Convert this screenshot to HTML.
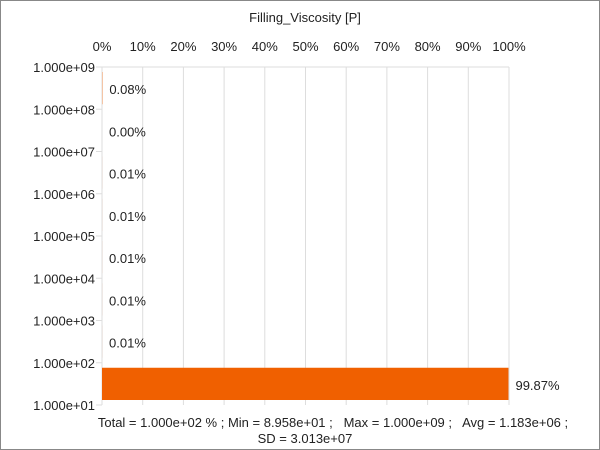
<!DOCTYPE html>
<html><head><meta charset="utf-8"><style>
body{margin:0;background:#fff}
svg{display:block;font-family:"Liberation Sans",sans-serif}
text{white-space:pre}
</style></head><body>
<svg id="c" width="600" height="450">
<rect x="0.5" y="0.5" width="599" height="449" fill="#fff" stroke="#888"/>
<text x="305" y="22" font-size="13" text-anchor="middle" fill="#222">Filling_Viscosity [P]</text>
<g id="g"></g>
<text x="333" y="427" font-size="13" text-anchor="middle" fill="#222" xml:space="preserve">Total = 1.000e+02 % ; Min = 8.958e+01 ;   Max = 1.000e+09 ;   Avg = 1.183e+06 ;</text>
<text x="305" y="443" font-size="13" text-anchor="middle" fill="#222">SD = 3.013e+07</text>
</svg>
<script>
const yTicks=["1.000e+09","1.000e+08","1.000e+07","1.000e+06","1.000e+05","1.000e+04","1.000e+03","1.000e+02","1.000e+01"];
const values=[0.08,0.00,0.01,0.01,0.01,0.01,0.01,99.87];
const labels=["0.08%","0.00%","0.01%","0.01%","0.01%","0.01%","0.01%","99.87%"];
const xTicks=[0,10,20,30,40,50,60,70,80,90,100];
const L=102,R=509,T=67,B=405;
const xs=v=>L+(R-L)*v/100;
const band=(B-T)/values.length;
const ys=i=>T+i*band;
const g=document.getElementById('g');
const NS='http://www.w3.org/2000/svg';
function mk(t,a){const e=document.createElementNS(NS,t);for(const k in a)e.setAttribute(k,a[k]);g.appendChild(e);return e;}
xTicks.forEach(v=>{
 const l=mk('line',{x1:xs(v),x2:xs(v),y1:T,y2:B,stroke:'#ddd'});
 
 
 const t=mk('text',{x:xs(v),y:51,'font-size':13,'text-anchor':'middle',fill:'#222'});
 t.textContent=v+'%';
 
 
});
const tl=mk('line',{x1:L,x2:R,y1:T,y2:T,stroke:'#ddd'});


yTicks.forEach((s,i)=>{
 const y=ys(i);
 const tk=mk('line',{x1:L-6,x2:L,y1:y,y2:y,stroke:'#ddd'});
 
 
 const t=mk('text',{x:95,y:y+5,'font-size':13,'text-anchor':'end',fill:'#222'});
 t.textContent=s;
 
 
});
values.forEach((v,i)=>{
 const y0=ys(i)+5,h=band-10;
 const r=mk('rect',{x:L,y:y0,width:Math.max(0,xs(v)-L),height:h,fill:'#f06000'});
 
 
 const t=mk('text',{x:xs(v)+7,y:ys(i)+band/2+6,'font-size':13,fill:'#222'});
 t.textContent=labels[i];
 
 
});
</script>
</body></html>
